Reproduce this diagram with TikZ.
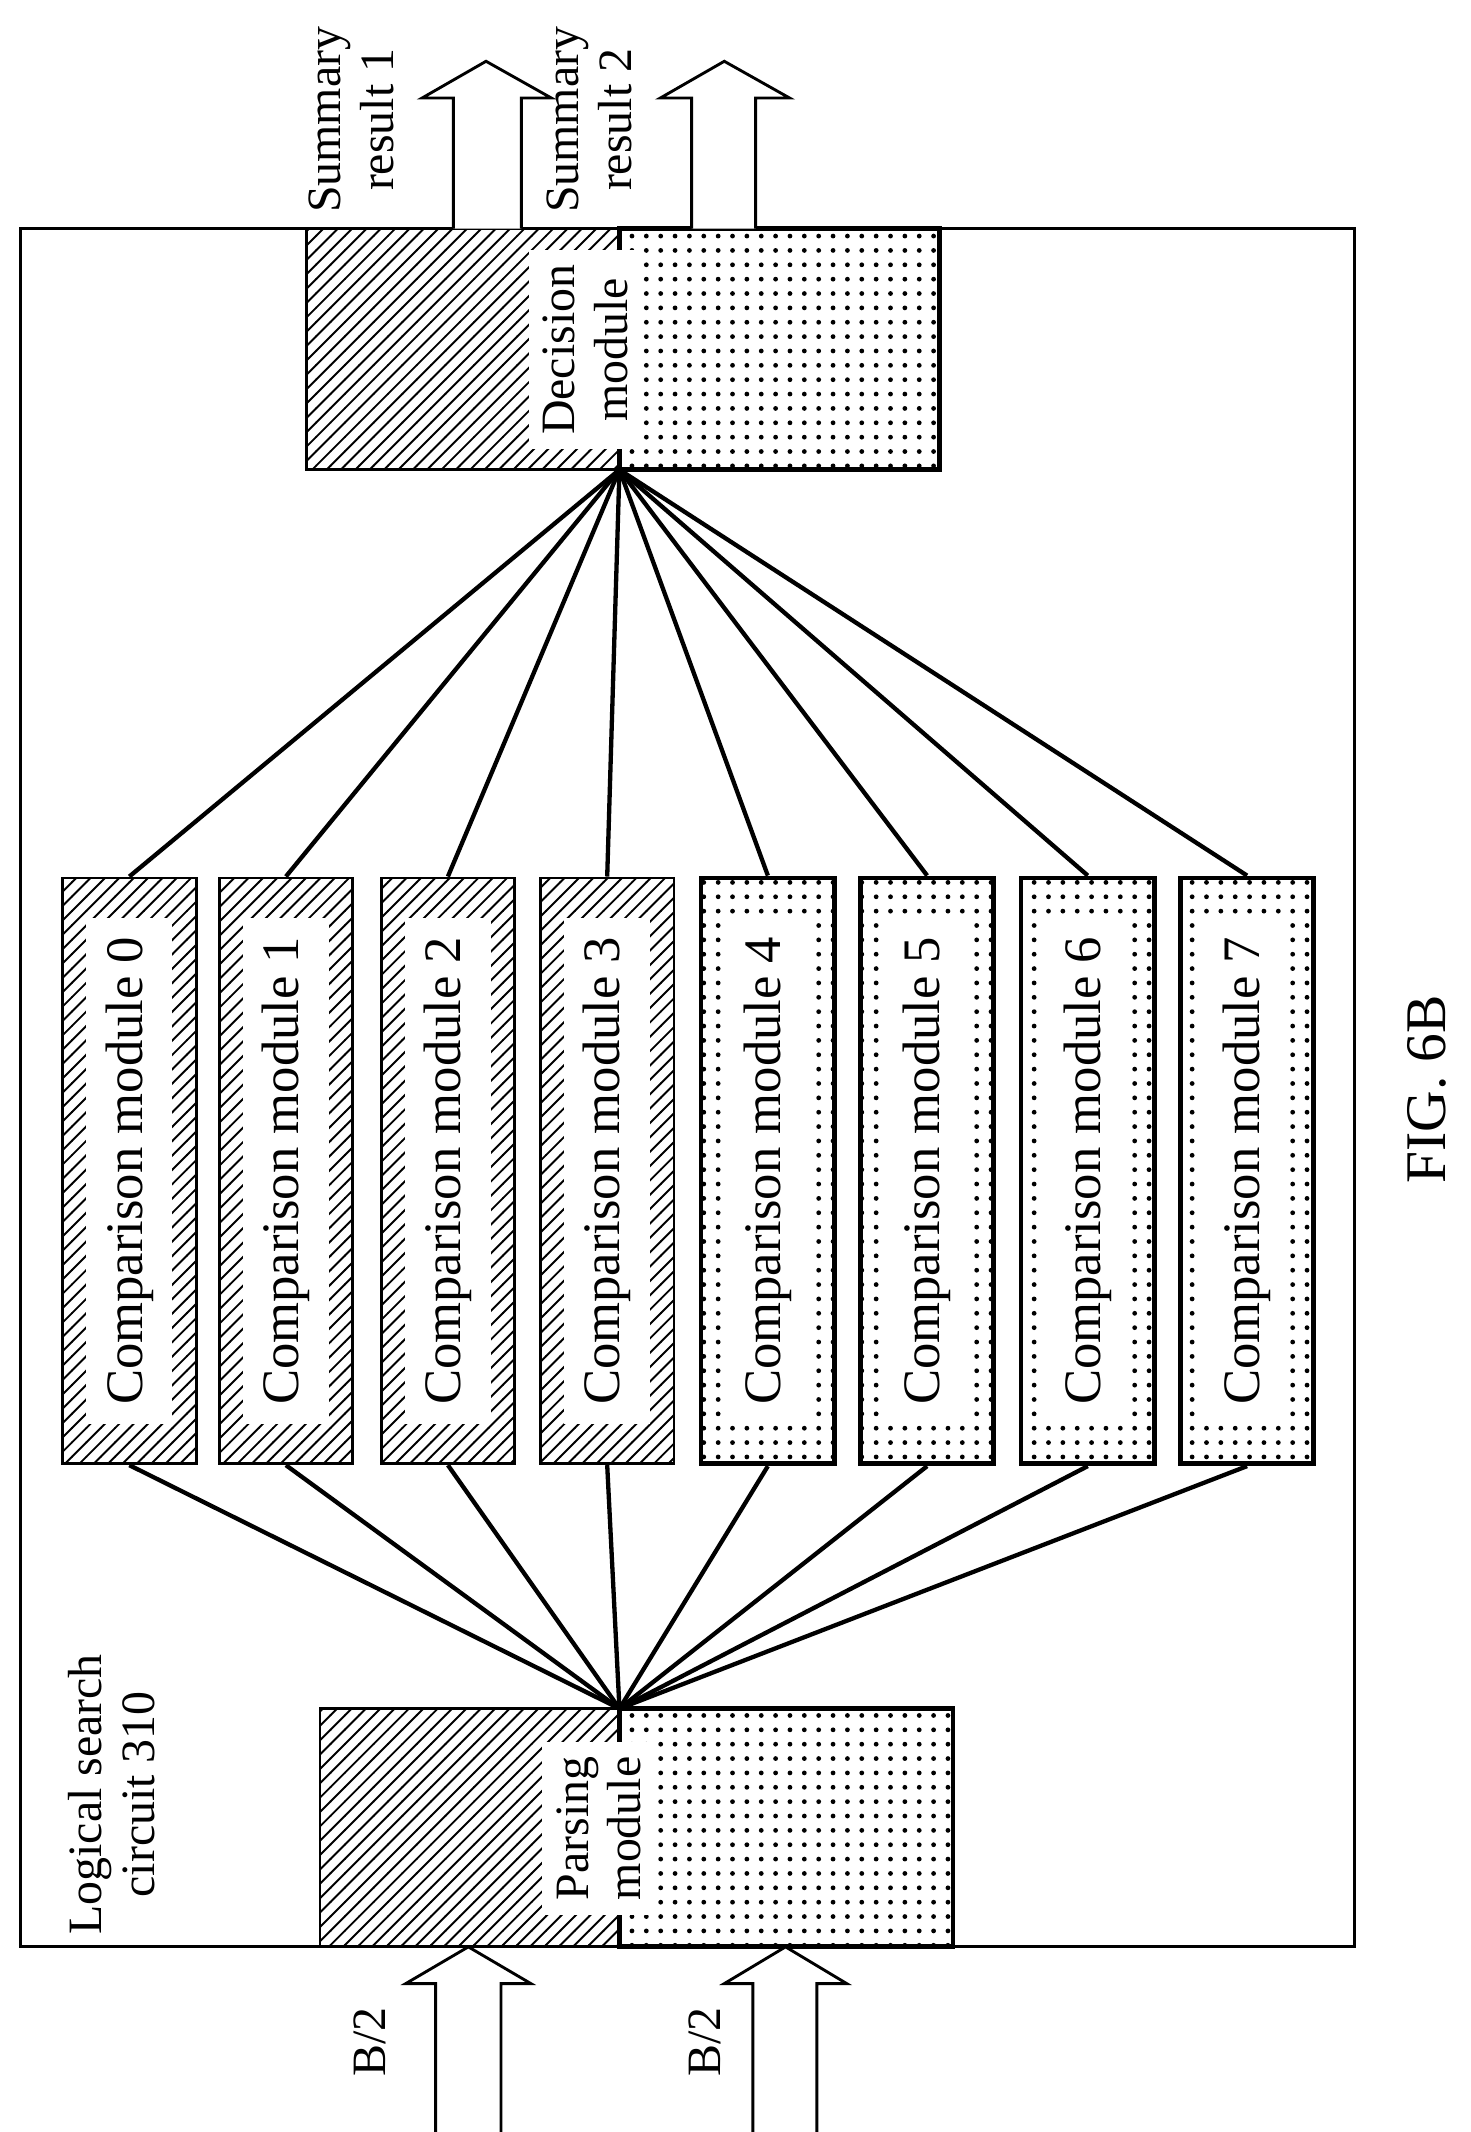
\documentclass[tikz,border=0pt]{standalone}
\usepackage{fontspec}
\setmainfont{Liberation Serif}
\usetikzlibrary{patterns,positioning}
\tikzstyle{l2}=[line width=0.9]
\tikzstyle{hatch}=[pattern=north east lines, draw=black, line width=0.6]
\tikzstyle{dotted}=[pattern=dots, draw=black, line width=1.0]
\tikzstyle{lbl}=[fill=white, rotate=90, inner sep=3pt, align=center, font=\fontsize{10}{11}\selectfont]
\tikzstyle{txt}=[rotate=90, align=center, font=\fontsize{10}{11}\selectfont]
\tikzstyle{cmp}=[rectangle, minimum width=0.98cm, minimum height=4.3cm, inner sep=0pt]
\tikzstyle{barrow}=[draw=black, fill=white, line width=0.6]

\begin{document}
\begin{tikzpicture}[x=0.01cm, y=-0.01cm]
    \useasboundingbox (0,0) rectangle (1080,1566);
    \draw[line width=0.6] (15,168) rectangle (995,1430);

    % decision module
    \path[hatch] (225,168) rectangle (455,345);
    \path[dotted] (455,168) rectangle (690,345);
    \node[lbl] at (430,257) (dec) {Decision\\module};
    \coordinate (decp) at (455,345);

    % parsing module
    \path[hatch] (235,1255) rectangle (455,1430);
    \path[dotted] (455,1255) rectangle (700,1430);
    \node[lbl] at (440,1343) (par) {Parsing\\module};
    \coordinate (parp) at (455,1255);

    % comparison modules
    \foreach \i/\x in {0/95,1/210,2/329,3/446,4/564,5/681,6/799,7/916} {
        \ifnum\i<4
            \node[cmp, hatch] at (\x,860) (c\i) {};
        \else
            \node[cmp, dotted] at (\x,860) (c\i) {};
        \fi
        \node[lbl, minimum width=3.5cm, inner sep=4pt, font=\fontsize{11}{12}\selectfont] at (\x,860) {Comparison module \i};
        \draw[l2] (decp) -- (c\i.north);
        \draw[l2] (parp) -- (c\i.south);
    }

    % summary arrows
    \draw[barrow] (333,168) -- (333,72) -- (310,72) -- (357,45) -- (405,72) -- (383,72) -- (383,168);
    \draw[barrow] (508,168) -- (508,72) -- (485,72) -- (532,45) -- (580,72) -- (555,72) -- (555,168);
    \node[txt] at (258,88) (s1) {Summary\\result 1};
    \node[txt] at (433,88) (s2) {Summary\\result 2};

    % input arrows
    \draw[barrow] (320,1566) -- (320,1457) -- (298,1457) -- (344,1430) -- (390,1457) -- (368,1457) -- (368,1566);
    \draw[barrow] (553,1566) -- (553,1457) -- (532,1457) -- (577,1430) -- (622,1457) -- (600,1457) -- (600,1566);
    \node[txt] at (272,1500) (b1) {B/2};
    \node[txt] at (518,1500) (b2) {B/2};

    \node[txt] at (82,1318) (lsc) {Logical search\\circuit 310};
    \node[txt, font=\fontsize{12}{13}\selectfont] at (1048,800) (fig) {FIG. 6B};
\end{tikzpicture}
\end{document}
